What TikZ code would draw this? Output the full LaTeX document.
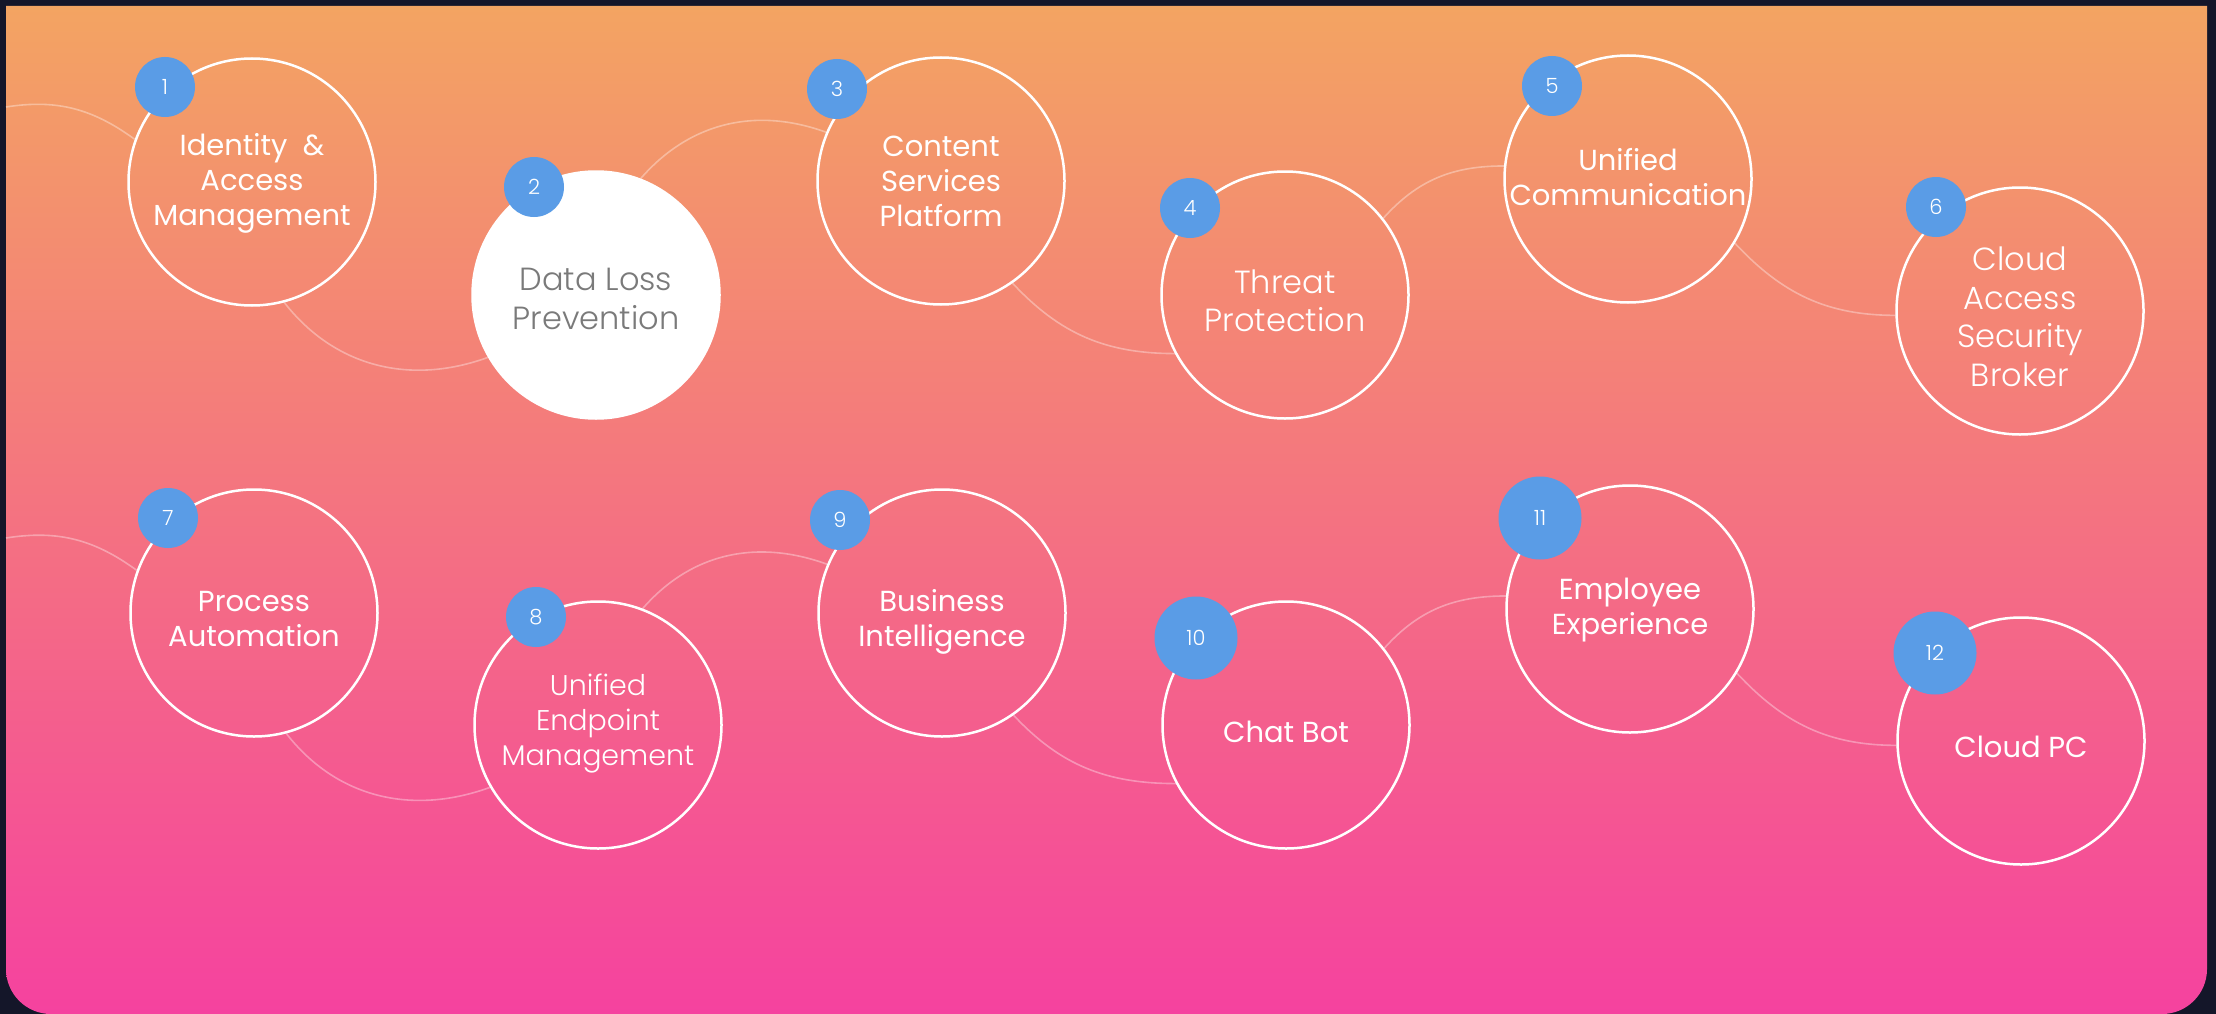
\documentclass[tikz,border=0pt]{standalone}
\usepackage{fontspec}
\setmainfont{Poppins}
\IfFontExistsTF{Poppins Light}{\newfontfamily\lightfont{Poppins Light}}{\newfontfamily\lightfont{Poppins}}
\definecolor{bgdark}{HTML}{141629}
\definecolor{topc}{HTML}{F3A462}
\definecolor{botc}{HTML}{F5429F}
\definecolor{badgec}{HTML}{5A9CE6}
\definecolor{graytext}{HTML}{7A7A7A}
\tikzset{
  ring/.style={circle, draw=white, line width=2.5pt, minimum size=247pt, inner sep=0pt},
  txt/.style={align=center, text=white, inner sep=0pt},
  regtext/.style={txt, font=\fontsize{29pt}{35pt}\selectfont},
  lighttext/.style={txt, font=\lightfont\fontsize{32pt}{38.5pt}\selectfont},
  lightsmall/.style={txt, font=\lightfont\fontsize{28.5pt}{35pt}\selectfont},
  badge/.style={circle, fill=badgec, minimum size=60pt, inner sep=0pt, text=white, font=\lightfont\fontsize{21pt}{24pt}\selectfont},
  bigbadge/.style={badge, minimum size=83pt},
  link/.style={draw=white, draw opacity=0.35, line width=1.6pt},
}
\begin{document}
\begin{tikzpicture}[x=1pt,y=1pt]
\useasboundingbox (0,0) rectangle (2216,-1014);
\fill[bgdark] (0,0) rectangle (2216,-1014);
\shade[top color=topc, bottom color=botc]
  (6,-6) -- (2207,-6) -- (2207,-969) arc[start angle=0,end angle=-90,radius=45]
  -- (51,-1014) arc[start angle=270,end angle=180,radius=45] -- cycle;

% rings
\node[ring] (c1) at (252,-182) {};
\node[ring, fill=white] (c2) at (596,-295) {};
\node[ring] (c3) at (941,-181) {};
\node[ring] (c4) at (1285,-295) {};
\node[ring] (c5) at (1628,-179) {};
\node[ring] (c6) at (2020,-311) {};
\node[ring] (c7) at (254,-613) {};
\node[ring] (c8) at (598,-725) {};
\node[ring] (c9) at (942,-613) {};
\node[ring] (c10) at (1286,-725) {};
\node[ring] (c11) at (1630,-609) {};
\node[ring] (c12) at (2021,-741) {};

% texts
\node[regtext] (t1) at ([yshift=-1pt]c1.center) {Identity\ \ \&\\Access\\Management};
\node[lighttext, text=graytext] (t2) at ([yshift=-4pt]c2.center) {Data Loss\\Prevention};
\node[regtext] (t3) at ([yshift=0pt]c3.center) {Content\\Services\\Platform};
\node[lighttext] (t4) at ([yshift=-6pt]c4.center) {Threat\\Protection};
\node[regtext] (t5) at ([yshift=2pt]c5.center) {Unified\\Communication};
\node[lighttext] (t6) at ([yshift=-6pt]c6.center) {Cloud\\Access\\Security\\Broker};
\node[regtext] (t7) at ([yshift=-6pt]c7.center) {Process\\Automation};
\node[lightsmall] (t8) at ([yshift=1pt]c8.center) {Unified\\Endpoint\\Management};
\node[regtext] (t9) at ([yshift=-9pt]c9.center) {Business\\Intelligence};
\node[regtext] (t10) at ([yshift=-7pt]c10.center) {Chat Bot};
\node[regtext] (t11) at ([yshift=-1pt]c11.center) {Employee\\Experience};
\node[regtext] (t12) at ([yshift=-6pt]c12.center) {Cloud PC};

% connectors
\coordinate (l1) at (6,-107);
\coordinate (l7) at (6,-538);
\draw[link] (l1) to[out=9,in=144] (c1.160);
\draw[link] (c1.-75) to[out=-52,in=200] (c2.210);
\draw[link] (c2.69) to[out=49,in=160] (c3.157);
\draw[link] (c3.-55) to[out=-47,in=180] (c4.208);
\draw[link] (c4.38) to[out=48,in=180] (c5.174);
\draw[link] (c5.-31) to[out=-47,in=180] (c6.182);
\draw[link] (l7) to[out=9,in=144] (c7.160);
\draw[link] (c7.-75) to[out=-52,in=200] (c8.210);
\draw[link] (c8.69) to[out=49,in=160] (c9.157);
\draw[link] (c9.-55) to[out=-47,in=180] (c10.208);
\draw[link] (c10.38) to[out=48,in=180] (c11.174);
\draw[link] (c11.-31) to[out=-47,in=180] (c12.182);

% badges
\node[badge] (b1) at (165,-87) {1};
\node[badge] (b2) at (534,-187) {2};
\node[badge] (b3) at (837,-89) {3};
\node[badge] (b4) at (1190,-208) {4};
\node[badge] (b5) at (1552,-86) {5};
\node[badge] (b6) at (1936,-207) {6};
\node[badge] (b7) at (168,-518) {7};
\node[badge] (b8) at (536,-617) {8};
\node[badge] (b9) at (840,-520) {9};
\node[bigbadge] (b10) at (1196,-638) {10};
\node[bigbadge] (b11) at (1540,-518) {11};
\node[bigbadge] (b12) at (1935,-653) {12};
\end{tikzpicture}
\end{document}
